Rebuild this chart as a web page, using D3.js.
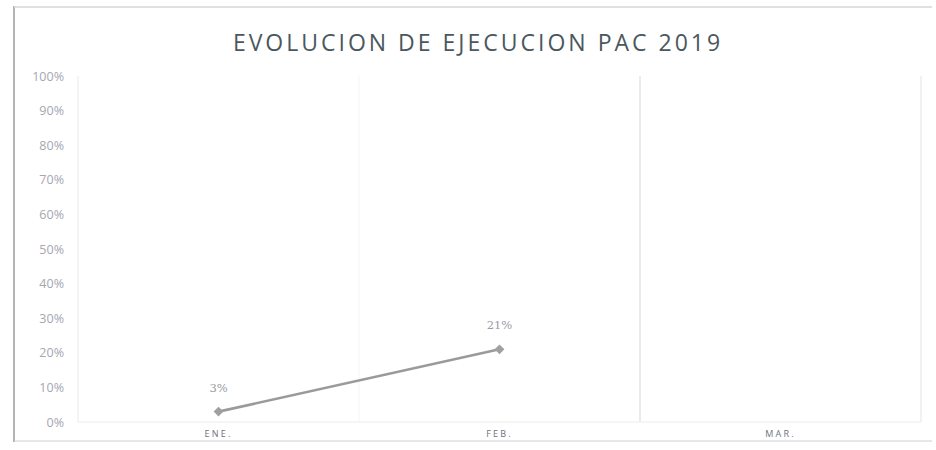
<!DOCTYPE html>
<html><head><meta charset="utf-8">
<script src="https://cdn.jsdelivr.net/npm/d3@7"></script>
<style>body{margin:0;background:#fff}svg{display:block}</style>
</head><body><svg id="c" width="936" height="450"></svg>
<script>
const categories = ["ENE.", "FEB.", "MAR."];
const values = [0.03, 0.21, null];
const valueLabels = ["3%", "21%", null];
const yTicks = [0,0.1,0.2,0.3,0.4,0.5,0.6,0.7,0.8,0.9,1.0];
const title = "EVOLUCION DE EJECUCION PAC 2019";

const svg = d3.select("#c");
const W = 936, H = 450;
const m = {left: 78, right: 15, top: 76, bottom: 28};
const x = d3.scaleBand().domain(categories).range([m.left, W - m.right]);
const y = d3.scaleLinear().domain([0, 1]).range([H - m.bottom, m.top]);

// frame
svg.append("line").attr("x1", 14).attr("x2", 14).attr("y1", 6).attr("y2", 442).attr("stroke", "#9a9a9a").attr("stroke-width", 1.5);
svg.append("line").attr("x1", 14).attr("x2", 932).attr("y1", 7).attr("y2", 7).attr("stroke", "#d6d6d6").attr("stroke-width", 1.5);
svg.append("line").attr("x1", 14).attr("x2", 932).attr("y1", 441).attr("y2", 441).attr("stroke", "#d0d0d0").attr("stroke-width", 1.2);

// faint vertical boundaries
categories.forEach((c, i) => {
  svg.append("line").attr("x1", x(c)).attr("x2", x(c)).attr("y1", y(1)).attr("y2", y(0))
    .attr("stroke", i === 2 ? "#e4e4e4" : (i === 0 ? "#f0f0f0" : "#f8f8f8")).attr("stroke-width", 1.5);
});
svg.append("line").attr("x1", x.range()[1]).attr("x2", x.range()[1]).attr("y1", y(1)).attr("y2", y(0))
  .attr("stroke", "#ededed").attr("stroke-width", 1.5);
svg.append("line").attr("x1", m.left).attr("x2", x.range()[1]).attr("y1", y(0)).attr("y2", y(0))
  .attr("stroke", "#f2f2f2").attr("stroke-width", 1.5);

// title
svg.append("text").attr("x", 478).attr("y", 51).attr("text-anchor", "middle")
  .attr("font-family", "Open Sans, sans-serif").attr("font-size", 23).attr("letter-spacing", 3)
  .attr("fill", "#4a585e").text(title);

// y axis
const yAxis = d3.axisLeft(y).tickValues(yTicks).tickFormat(d3.format(".0%")).tickSize(0).tickPadding(0);
const ga = svg.append("g").attr("transform", `translate(${m.left - 14},0)`).call(yAxis);
ga.select(".domain").remove();
ga.selectAll("text").attr("font-family", "Open Sans, sans-serif").attr("font-size", 12.5).attr("fill", "#a6a6b2");

// x axis
const xAxis = d3.axisBottom(x).tickSize(0).tickPadding(0);
const gx = svg.append("g").attr("transform", `translate(0,${y(0) + 9})`).call(xAxis);
gx.select(".domain").remove();
gx.selectAll("text").attr("font-family", "Open Sans, sans-serif").attr("font-size", 9).attr("letter-spacing", 2.2).attr("fill", "#707080");

// line
const pts = categories.map((c, i) => ({c, v: values[i], l: valueLabels[i]})).filter(d => d.v !== null);
const line = d3.line().x(d => x(d.c) + x.bandwidth() / 2).y(d => y(d.v));
svg.append("path").datum(pts).attr("d", line).attr("fill", "none").attr("stroke", "#9a9a9a").attr("stroke-width", 2.6);
svg.selectAll(".pt").data(pts).enter().append("path")
  .attr("transform", d => `translate(${x(d.c) + x.bandwidth() / 2},${y(d.v)}) rotate(45)`)
  .attr("d", d3.symbol().type(d3.symbolSquare).size(48)).attr("fill", "#a0a0a0");
svg.selectAll(".lbl").data(pts).enter().append("text")
  .attr("x", d => x(d.c) + x.bandwidth() / 2).attr("y", d => y(d.v) - 20)
  .attr("text-anchor", "middle").attr("font-family", "DejaVu Serif, serif").attr("font-size", 11.5)
  .attr("fill", "#9a9aa4").text(d => d.l);
</script></body></html>
